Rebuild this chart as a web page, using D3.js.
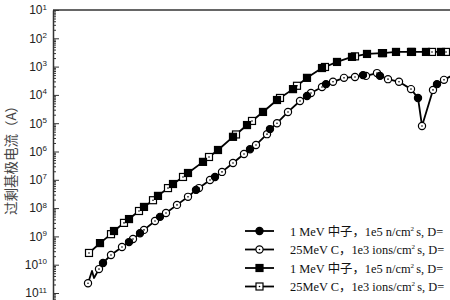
<!DOCTYPE html>
<html>
<head>
<meta charset="utf-8">
<script src="https://cdn.jsdelivr.net/npm/d3@7"></script>
<style>
  body { margin: 0; background: #fff; }
</style>
</head>
<body>
<div id="chart"></div>
<script>
// data (x in arbitrary units, y in A)
const sqFillX = [47, 61, 76, 91, 105, 120, 135, 150, 165, 180, 194, 210, 224, 240, 254, 269, 284, 299, 314, 329, 343, 358, 373, 388, 403];
const sqFillY = [5.8e-10, 1.55e-9, 4.1e-9, 1.1e-8, 2.7e-8, 7.1e-8, 1.74e-7, 4.3e-7, 1.13e-6, 3.3e-6, 8.6e-6, 2.5e-5, 6.6e-5, 1.6e-4, 4.0e-4, 8.9e-4, 1.46e-3, 2.2e-3, 2.8e-3, 3.0e-3, 3.3e-3, 3.3e-3, 3.3e-3, 3.3e-3, 3.3e-3];

const sqOpenX = [36, 58, 71, 86, 100, 115, 130, 156, 183, 199, 227, 244, 272, 302, 330, 359, 379, 393, 408];
const sqOpenY = [2.6e-10, 1.2e-9, 3.0e-9, 7.9e-9, 1.9e-8, 5.1e-8, 1.26e-7, 6.4e-7, 4.0e-6, 1.2e-5, 7.8e-5, 2.1e-4, 9.7e-4, 2.3e-3, 3.0e-3, 3.3e-3, 3.3e-3, 3.3e-3, 3.3e-3];

const ciOpenX = [35, 46, 58, 69, 80, 91, 102, 113, 124, 135, 146, 157, 169, 180, 191, 203, 214, 224, 235, 247, 258, 269, 280, 291, 302, 313, 324, 335, 346, 358, 369, 380, 391, 402];
const ciOpenY = [2.2e-11, 7.0e-11, 2.2e-10, 4.2e-10, 8.1e-10, 1.7e-9, 3.5e-9, 6.7e-9, 1.3e-8, 2.5e-8, 5.1e-8, 9.8e-8, 1.9e-7, 3.9e-7, 8.2e-7, 1.7e-6, 4.1e-6, 1.0e-5, 2.5e-5, 6.1e-5, 1.17e-4, 1.9e-4, 2.9e-4, 4.0e-4, 4.3e-4, 4.7e-4, 5.9e-4, 3.6e-4, 2.9e-4, 1.6e-4, 8.0e-6, 1.5e-4, 3.4e-4, 5.5e-4];

const ciFillX = [50, 76, 87, 107, 143, 162, 197, 217, 254, 273, 310, 327, 365, 384];
const ciFillY = [1.15e-10, 6.3e-10, 1.3e-9, 4.9e-9, 4.4e-8, 1.26e-7, 1.2e-6, 6.2e-6, 9.1e-5, 2.4e-4, 5.0e-4, 4.7e-4, 7.8e-5, 2.4e-4];

// unmarked kink at the start of the circle curve
const ciZigX = [39, 41];
const ciZigY = [6.0e-11, 3.4e-11];

const yExps = [1, 2, 3, 4, 5, 6, 7, 8, 9, 10, 11];
const legendLabels = [
  ["1 MeV 中子，1e5 n/cm", " s, D="],
  ["25MeV C，1e3 ions/cm", " s, D="],
  ["1 MeV 中子，1e5 n/cm", " s, D="],
  ["25MeV C，1e3 ions/cm", " s, D="]
];
const legendMarks = ["circleFill", "circleOpen", "squareFill", "squareOpen"];
const yTitle = "过剩基极电流（A）";

const width = 450, height = 300;
const marginLeft = 53, marginTop = 10;
const decade = 28.3;

const svg = d3.select("#chart").append("svg")
  .attr("width", width)
  .attr("height", height)
  .style("display", "block");

const x = d3.scaleLinear().domain([0, 400]).range([marginLeft, marginLeft + 400]);
const y = d3.scaleLog().domain([1e-12, 1e-1]).range([marginTop + 11 * decade, marginTop]);

const zip = (xs, ys) => xs.map((d, i) => ({ x: d, y: ys[i] }));
const sqFill = zip(sqFillX, sqFillY);
const sqOpen = zip(sqOpenX, sqOpenY);
const ciFill = zip(ciFillX, ciFillY);
const ciOpen = zip(ciOpenX, ciOpenY);
const ciZig = zip(ciZigX, ciZigY);

// axes
const minors = [];
for (let e = -12; e < -1; e++) {
  for (let m = 2; m <= 9; m++) minors.push(m * Math.pow(10, e));
}
svg.append("g")
  .attr("transform", `translate(${marginLeft},0)`)
  .call(d3.axisLeft(y).tickValues(minors).tickSize(-3).tickFormat(""))
  .call(g => g.select(".domain").remove())
  .call(g => g.selectAll("line").attr("stroke", "#333"));

const yAxis = svg.append("g")
  .attr("transform", `translate(${marginLeft},0)`)
  .call(d3.axisLeft(y)
    .tickValues(yExps.map(e => Math.pow(10, -e)))
    .tickSizeInner(-6)
    .tickSizeOuter(0)
    .tickPadding(6)
    .tickFormat(""));
yAxis.select(".domain").attr("stroke", "#333").attr("stroke-width", 1.5);
yAxis.selectAll("line").attr("stroke", "#333");
yAxis.selectAll(".tick text")
  .attr("font-family", "'Liberation Sans', Arial, sans-serif")
  .attr("font-size", 12)
  .attr("fill", "#222")
  .each(function (d) {
    const t = d3.select(this);
    t.append("tspan").text("10");
    t.append("tspan").attr("font-size", 8).attr("dy", "-0.6em")
      .text(Math.round(-Math.log10(d)));
  });

// top frame line
svg.append("line")
  .attr("x1", marginLeft).attr("x2", width + 5)
  .attr("y1", y(1e-1)).attr("y2", y(1e-1))
  .attr("stroke", "#333").attr("stroke-width", 1.5);

svg.append("text")
  .attr("transform", `translate(16,157) rotate(-90)`)
  .attr("text-anchor", "middle")
  .attr("font-family", "'Noto Sans CJK SC', sans-serif")
  .attr("font-size", 13.5)
  .attr("fill", "#444")
  .text(yTitle);

// curves
const line = d3.line().x(d => x(d.x)).y(d => y(d.y));
const sqCurve = sqFill.concat(sqOpen).sort((a, b) => a.x - b.x);
const ciCurve = ciFill.concat(ciOpen, ciZig).sort((a, b) => a.x - b.x);

svg.selectAll("path.curve")
  .data([sqCurve, ciCurve])
  .join("path")
  .attr("class", "curve")
  .attr("d", line)
  .attr("fill", "none")
  .attr("stroke", "#000")
  .attr("stroke-width", 1.8)
  .attr("stroke-linejoin", "round");

function drawMark(g, kind, cx, cy) {
  if (kind.startsWith("circle")) {
    g.append("circle").attr("cx", cx).attr("cy", cy).attr("r", 3.6)
      .attr("fill", kind === "circleFill" ? "#000" : "#fff")
      .attr("stroke", "#000").attr("stroke-width", 1.2);
  } else {
    g.append("rect").attr("x", cx - 3.5).attr("y", cy - 3.5)
      .attr("width", 7).attr("height", 7)
      .attr("fill", kind === "squareFill" ? "#000" : "#fff")
      .attr("stroke", "#000").attr("stroke-width", 1.2);
  }
  if (kind.endsWith("Open")) {
    g.append("circle").attr("cx", cx).attr("cy", cy).attr("r", 0.8).attr("fill", "#000");
  }
}

const marks = svg.append("g");
[[sqOpen, "squareOpen"], [sqFill, "squareFill"], [ciOpen, "circleOpen"], [ciFill, "circleFill"]]
  .forEach(([data, kind]) => {
    data.forEach(d => drawMark(marks, kind, x(d.x), y(d.y)));
  });

// legend
const legendY = [231, 249.5, 268, 286.5];
const legend = svg.append("g");
legendLabels.forEach((lab, i) => {
  const ly = legendY[i];
  legend.append("line")
    .attr("x1", 245).attr("x2", 274)
    .attr("y1", ly).attr("y2", ly)
    .attr("stroke", "#000").attr("stroke-width", 1.8);
  drawMark(legend, legendMarks[i], 259.5, ly);
  const t = legend.append("text")
    .attr("x", 290).attr("y", ly + 4.5)
    .attr("font-family", "'Liberation Serif', 'Times New Roman', 'Noto Sans CJK SC', serif")
    .attr("font-size", 12.4)
    .attr("fill", "#111");
  t.append("tspan").text(lab[0]);
  t.append("tspan").attr("font-size", 7).attr("dy", -5).text("2");
  t.append("tspan").attr("dy", 5).attr("dx", -1).text(lab[1]);
});
</script>
</body>
</html>
